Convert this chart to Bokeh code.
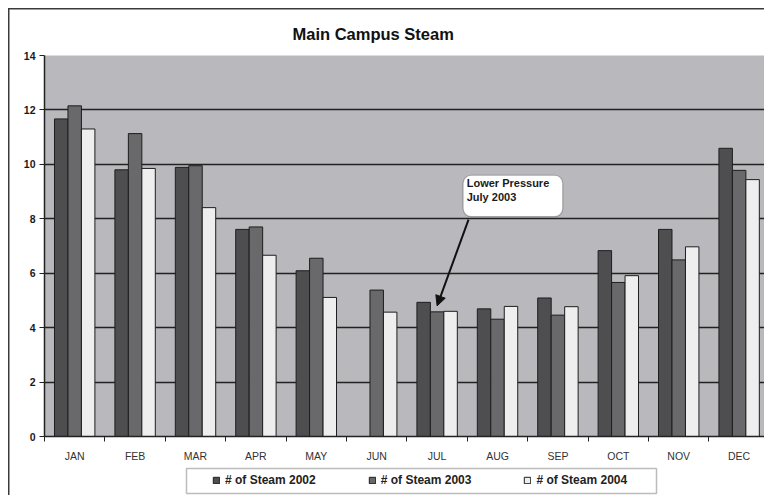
from bokeh.plotting import figure
from bokeh.layouts import column
from bokeh.models import (Range1d, FixedTicker, Legend, LegendItem, BoxAnnotation,
                          Label, Arrow, NormalHead, ColumnDataSource)
from bokeh.embed import file_html
from bokeh.resources import INLINE

# ---------------- data ----------------
months = ["JAN", "FEB", "MAR", "APR", "MAY", "JUN", "JUL", "AUG", "SEP", "OCT", "NOV", "DEC"]
steam_2002 = [11.67, 9.80, 9.89, 7.61, 6.09, float("nan"), 4.93, 4.69, 5.09, 6.83, 7.61, 10.59]
steam_2003 = [12.15, 11.13, 9.95, 7.70, 6.55, 5.38, 4.58, 4.31, 4.46, 5.66, 6.49, 9.78]
steam_2004 = [11.30, 9.85, 8.41, 6.66, 5.11, 4.57, 4.60, 4.78, 4.77, 5.91, 6.97, 9.44]
series_labels = ["# of Steam 2002", "# of Steam 2003", "# of Steam 2004"]
y_ticks = [0, 2, 4, 6, 8, 10, 12, 14]
title_text = "Main Campus Steam"
note_text = "Lower Pressure\nJuly 2003"

# ---------------- styling ----------------
FONT = "Liberation Sans"
colors = ["#4e4e51", "#69696c", "#eeeeee"]
bar_w = 0.223
offsets = [-bar_w, 0.0, bar_w]

p = figure(width=764, height=466, x_range=Range1d(0, 11.92), y_range=Range1d(0, 14),
           output_backend="svg", toolbar_location=None,
           min_border_left=44, min_border_right=0, min_border_top=55, min_border_bottom=30,
           background_fill_color="#b9b9bd", border_fill_alpha=0)
p.outline_line_color = None

# title
p.title.text = title_text
p.title.align = "left"
p.title.offset = 248
p.title.text_font = FONT
p.title.text_font_size = "16.5px"
p.title.text_font_style = "bold"
p.title.text_color = "#111111"
p.title.standoff = 25

# grid
p.xgrid.grid_line_color = None
p.ygrid.ticker = FixedTicker(ticks=y_ticks)
p.ygrid.grid_line_color = "#222222"
p.ygrid.grid_line_width = 1.3

# y axis
p.yaxis.ticker = FixedTicker(ticks=y_ticks)
p.yaxis.axis_line_color = "#222222"
p.yaxis.axis_line_width = 1.5
p.yaxis.major_tick_out = 5
p.yaxis.major_tick_in = 0
p.yaxis.major_tick_line_color = "#222222"
p.yaxis.minor_tick_line_color = None
p.yaxis.major_label_text_font = FONT
p.yaxis.major_label_text_font_size = "10.5px"
p.yaxis.major_label_text_font_style = "bold"
p.yaxis.major_label_text_color = "#1a1a1a"
p.yaxis.major_label_standoff = 4

# x axis: labels at month centres, ticks at the boundaries
centers = [i + 0.5 for i in range(len(months))]
bounds = [float(i) for i in range(len(months) + 1)]
p.xaxis.ticker = FixedTicker(ticks=centers, minor_ticks=bounds)
p.xaxis.major_label_overrides = {c: m for c, m in zip(centers, months)}
p.xaxis.axis_line_color = "#222222"
p.xaxis.axis_line_width = 1.5
p.xaxis.major_tick_line_color = None
p.xaxis.major_tick_out = 0
p.xaxis.major_tick_in = 0
p.xaxis.minor_tick_line_color = "#222222"
p.xaxis.minor_tick_out = 5
p.xaxis.minor_tick_in = 0
p.xaxis.major_label_text_font = FONT
p.xaxis.major_label_text_font_size = "10.5px"
p.xaxis.major_label_text_color = "#333333"
p.xaxis.major_label_standoff = 8

# bars
sources = []
for vals, off, col in zip([steam_2002, steam_2003, steam_2004], offsets, colors):
    src = ColumnDataSource(dict(x=[c + off for c in centers], top=vals))
    sources.append(src)
    p.vbar(x="x", top="top", width=bar_w, bottom=0, source=src,
           fill_color=col, line_color="#1e1e1e", line_width=1)

# callout
jul = months.index("JUL")
tip_x = centers[jul] + offsets[1]
tip_y = steam_2003[jul] + 0.22
p.add_layout(BoxAnnotation(left=6.93, right=8.58, top=9.6, bottom=8.08,
                           fill_color="white", fill_alpha=1, line_color="#1e1e1e",
                           line_width=1.2, border_radius=8))
p.add_layout(Label(x=6.99, y=9.52, text=note_text, text_font=FONT,
                   text_font_size="11px", text_font_style="bold",
                   text_color="#1a1a1a", text_baseline="top", text_align="left",
                   text_line_height=1.15))
p.add_layout(Arrow(end=NormalHead(size=10, fill_color="#111111", line_color="#111111"),
                   x_start=7.02, y_start=7.97, x_end=tip_x, y_end=tip_y,
                   line_color="#111111", line_width=2))

# ---------------- legend strip (own small figure, pixel-unit frame) -------------
lf = figure(width=764, height=29, x_range=Range1d(44, 764), y_range=Range1d(100, 129),
            output_backend="svg", toolbar_location=None,
            x_axis_location=None, y_axis_location=None,
            min_border_left=44, min_border_right=0, min_border_top=0, min_border_bottom=0,
            background_fill_alpha=0, border_fill_alpha=0)
lf.grid.grid_line_color = None
lf.outline_line_color = None
lf.add_layout(BoxAnnotation(left=186, right=656, bottom=102, top=127,
                            fill_color="white", fill_alpha=1,
                            line_color="#222222", line_width=1.5))
# legend proxies share the bar data (they fall outside this strip's range, so draw nothing)
leg_renderers = [lf.vbar(x="x", top="top", width=bar_w, bottom=0, source=src,
                         fill_color=col, line_color="#1e1e1e", line_width=1)
                 for src, col in zip(sources, colors)]
legend = Legend(items=[LegendItem(label=lab, renderers=[r]) for lab, r in zip(series_labels, leg_renderers)],
                orientation="horizontal", location=(168, 8),
                border_line_color=None, background_fill_alpha=0,
                padding=0, margin=0, spacing=52,
                glyph_width=8, glyph_height=8, label_standoff=5,
                label_height=12,
                label_text_font=FONT, label_text_font_size="12px",
                label_text_font_style="bold", label_text_color="#222222")
lf.add_layout(legend)

# outer chart frame: top and left edges drawn as the page background behind the figures
layout = column(p, lf, spacing=0,
                styles={"background-color": "white",
                        "background-image": "linear-gradient(#3a3a3a, #3a3a3a), linear-gradient(#3a3a3a, #3a3a3a)",
                        "background-size": "1.5px 500px, 800px 1.5px",
                        "background-position": "8px 8px, 8px 8px",
                        "background-repeat": "no-repeat"})
open("out.html", "w").write(file_html(layout, INLINE))
